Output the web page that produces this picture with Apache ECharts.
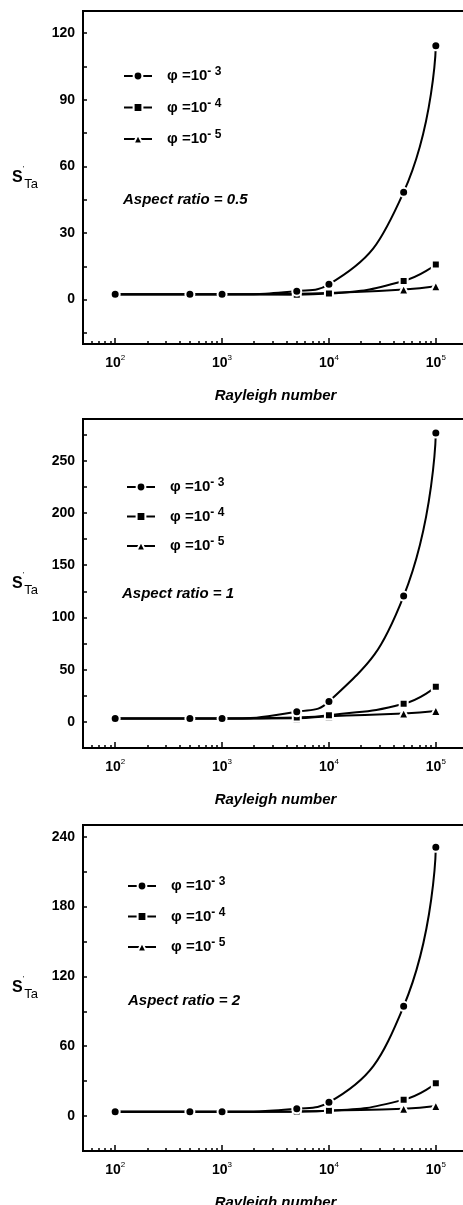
<!DOCTYPE html>
<html>
<head>
<meta charset="utf-8">
<script src="https://cdn.jsdelivr.net/npm/echarts@6/dist/echarts.min.js"></script>
<style>
  html, body { margin: 0; padding: 0; background: #fff; }
  #chart { width: 463px; height: 1205px; }
</style>
</head>
<body>
<div id="chart"></div>
<script>
// Rayleigh numbers (x values) shared by all three panels
const rayleigh = [100, 500, 1000, 5000, 10000, 50000, 100000]

// S'Ta values, aspect ratio 0.5
const ar05Phi3 = [2.4, 2.4, 2.4, 3.8, 6.9, 48.4, 114.3]
const ar05Phi4 = [2.4, 2.4, 2.4, 2.2, 2.7, 8.4, 15.8]
const ar05Phi5 = [2.3, 2.3, 2.3, 2.6, 3.0, 4.5, 6.0]
// aspect ratio 1
const ar1Phi3 = [3.2, 3.2, 3.2, 9.6, 19.5, 120.5, 276.5]
const ar1Phi4 = [3.2, 3.2, 3.2, 4.2, 6.4, 17.3, 33.6]
const ar1Phi5 = [3.2, 3.2, 3.2, 3.4, 5.4, 8.0, 10.5]
// aspect ratio 2
const ar2Phi3 = [3.7, 3.7, 3.7, 6.3, 11.8, 94.3, 230.8]
const ar2Phi4 = [3.7, 3.7, 3.7, 4.0, 4.6, 14.1, 28.2]
const ar2Phi5 = [3.7, 3.7, 3.7, 3.7, 4.6, 6.3, 8.6]

const phiExponents = ["3", "4", "5"]
const aspectRatios = ["0.5", "1", "2"]

// tick labels / tick positions
const xMajorTicks = [100, 1000, 10000, 100000]
const xMinorTicks = [60, 70, 80, 90, 200, 300, 400, 500, 600, 700, 800, 900,
    2000, 3000, 4000, 5000, 6000, 7000, 8000, 9000,
    20000, 30000, 40000, 50000, 60000, 70000, 80000, 90000]
const yLabels05 = [0, 30, 60, 90, 120]
const yTicks05 = [-15, 0, 15, 30, 45, 60, 75, 90, 105, 120]
const yLabels1 = [0, 50, 100, 150, 200, 250]
const yTicks1 = [-25, 0, 25, 50, 75, 100, 125, 150, 175, 200, 225, 250, 275]
const yLabels2 = [0, 60, 120, 180, 240]
const yTicks2 = [-30, 0, 30, 60, 90, 120, 150, 180, 210, 240]

const FONT = "'Liberation Sans', Arial, Helvetica, sans-serif"
const symbols = ["circle", "rect", "triangle"]
const symbolSizes = [9, 8, 10]

const panels = [
    { top: 11, height: 333, min: -20, max: 130, labels: yLabels05, ticks: yTicks05,
      values: [ar05Phi3, ar05Phi4, ar05Phi5], legendTop: 66, legendLeft: 123, legendGap: 14, textLeft: 123, textTop: 192 },
    { top: 419, height: 329, min: -25, max: 290, labels: yLabels1, ticks: yTicks1,
      values: [ar1Phi3, ar1Phi4, ar1Phi5], legendTop: 477, legendLeft: 126, legendGap: 12, textLeft: 122, textTop: 586 },
    { top: 825, height: 326, min: -30, max: 250, labels: yLabels2, ticks: yTicks2,
      values: [ar2Phi3, ar2Phi4, ar2Phi5], legendTop: 876, legendLeft: 127, legendGap: 13, textLeft: 128, textTop: 993 },
]

const legendName = (e) => "φ=10-" + e

const chart = echarts.init(document.getElementById("chart"))

const grid = [], xAxis = [], yAxis = [], series = [], legend = [], title = []

panels.forEach((p, i) => {
    grid.push({
        left: 83, top: p.top, width: 385, height: p.height,
        outerBoundsMode: "none", containLabel: false,
        show: true, borderColor: "#000", borderWidth: 2,
    })
    xAxis.push({
        type: "log", logBase: 10, gridIndex: i, position: "bottom",
        min: 50, max: 200000,
        name: "Rayleigh number", nameLocation: "middle", nameGap: 44,
        nameTextStyle: { fontFamily: FONT, fontSize: 15, fontWeight: "bold", fontStyle: "italic", color: "#000" },
        axisLine: { onZero: false, lineStyle: { color: "#000", width: 2 } },
        axisTick: { inside: true, length: 6, customValues: xMajorTicks, lineStyle: { color: "#000", width: 1.5 } },
        axisLabel: {
            customValues: xMajorTicks, margin: 10,
            formatter: (v) => "{b|10}{s|" + Math.round(Math.log10(v)) + "}",
            rich: {
                b: { fontFamily: FONT, fontSize: 14, fontWeight: "bold", color: "#000", lineHeight: 18 },
                s: { fontFamily: FONT, fontSize: 8, color: "#000", verticalAlign: "top", lineHeight: 18 },
            },
        },
        splitLine: { show: false },
    })
    yAxis.push({
        type: "value", gridIndex: i, min: p.min, max: p.max,
        name: "{s|S}{p|'}{t|Ta}", nameLocation: "middle", nameRotate: 0, nameGap: 45,
        nameTextStyle: {
            rich: {
                s: { fontFamily: FONT, fontSize: 16, fontWeight: "bold", color: "#000", lineHeight: 26 },
                p: { fontFamily: FONT, fontSize: 8, color: "#000", verticalAlign: "top", lineHeight: 26 },
                t: { fontFamily: FONT, fontSize: 13, color: "#000", verticalAlign: "bottom", lineHeight: 26 },
            },
        },
        axisLine: { show: true, onZero: false, lineStyle: { color: "#000", width: 2 } },
        axisTick: { inside: true, length: 4, customValues: p.ticks, lineStyle: { color: "#000", width: 1.5 } },
        axisLabel: {
            customValues: p.labels, margin: 8,
            fontFamily: FONT, fontSize: 14, fontWeight: "bold", color: "#000",
        },
        splitLine: { show: false },
    })
    legend.push({
        orient: "vertical", left: p.legendLeft, top: p.legendTop, padding: 0,
        itemWidth: 28, itemHeight: 11, itemGap: p.legendGap,
        selectedMode: false,
        data: phiExponents.map(legendName),
        formatter: (n) => "{a|φ =10}{b|- " + n.slice(-1) + "}",
        textStyle: {
            rich: {
                a: { fontFamily: FONT, fontSize: 15, fontWeight: "bold", color: "#000", lineHeight: 20, padding: [0, 0, 0, 10] },
                b: { fontFamily: FONT, fontSize: 12, fontWeight: "bold", color: "#000", verticalAlign: "top", lineHeight: 20 },
            },
        },
    })
    title.push({
        text: "Aspect ratio = " + aspectRatios[i], left: p.textLeft, top: p.textTop, padding: 0,
        textStyle: { fontFamily: FONT, fontSize: 15, fontWeight: "bold", fontStyle: "italic", color: "#000" },
    })
    p.values.forEach((vals, k) => {
        series.push({
            type: "line", name: legendName(phiExponents[k]),
            xAxisIndex: i, yAxisIndex: i,
            data: rayleigh.map((x, j) => [x, vals[j]]),
            smooth: 0.5,
            symbol: symbols[k], symbolSize: symbolSizes[k],
            lineStyle: { color: "#000", width: 2 },
            itemStyle: { color: "#000", borderColor: "#fff", borderWidth: 2 },
            z: 3 - k,
            animation: false,
        })
    })
})

// minor ticks on the log axes, drawn by an overlay axis per panel
panels.forEach((p, i) => {
    xAxis.push({
        type: "log", logBase: 10, gridIndex: i, position: "bottom",
        min: 50, max: 200000,
        axisLine: { show: false, onZero: false },
        axisTick: { inside: true, length: 3, customValues: xMinorTicks, lineStyle: { color: "#000", width: 1.5 } },
        axisLabel: { show: false },
        splitLine: { show: false },
    })
})

chart.setOption({
    backgroundColor: "#fff",
    animation: false,
    title, grid, xAxis, yAxis, legend, series,
})
</script>
</body>
</html>
